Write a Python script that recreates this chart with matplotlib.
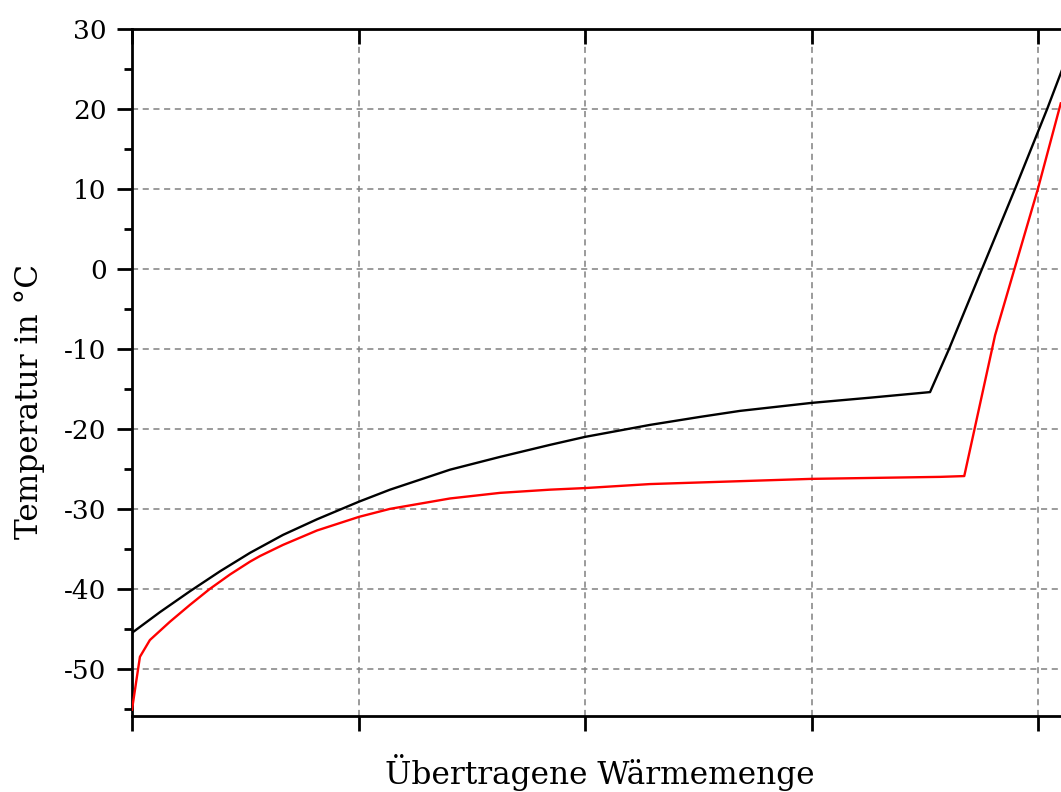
import numpy as np
import matplotlib
matplotlib.use('Agg')
import matplotlib.pyplot as plt
from matplotlib.ticker import MultipleLocator, NullFormatter

# values (x in arbitrary heat units, y in deg C)
black_x = [0.0, 0.124, 0.256, 0.389, 0.521, 0.667, 0.817, 1.002, 1.139, 1.404, 1.625, 1.845, 2.0,
           2.287, 2.508, 2.684, 3.0, 3.258, 3.523, 3.607, 3.898, 4.04, 4.13]
black_y = [-45.5, -42.9, -40.3, -37.8, -35.5, -33.25, -31.3, -29.1, -27.6, -25.1, -23.5, -22.0, -21.0,
           -19.5, -18.5, -17.75, -16.75, -16.1, -15.4, -10.0, 10.0, 20.0, 26.7]

red_x = [0.0, 0.035, 0.079, 0.168, 0.256, 0.344, 0.433, 0.521, 0.565, 0.667, 0.817, 1.002, 1.139,
         1.404, 1.625, 1.845, 2.0, 2.287, 3.0, 3.568, 3.674, 3.81, 3.999, 4.10]
red_y = [-55.1, -48.5, -46.4, -44.1, -42.0, -40.0, -38.2, -36.6, -35.9, -34.5, -32.7, -31.0, -30.0,
         -28.7, -28.0, -27.6, -27.4, -26.9, -26.25, -26.0, -25.9, -8.3, 10.0, 20.7]

Y_TICKS = [-50, -40, -30, -20, -10, 0, 10, 20, 30]
X_TICKS = [0, 1, 2, 3, 4]

plt.rcParams['font.family'] = 'DejaVu Serif'
plt.rcParams['axes.unicode_minus'] = False


def main():
    fig = plt.figure(figsize=(10.61, 7.92), dpi=100)
    ax = fig.add_axes([132 / 1061, 76 / 792, 936 / 1061, 687 / 792])

    ax.plot(black_x, black_y, color='black', lw=1.7, zorder=3)
    ax.plot(red_x, red_y, color='red', lw=1.7, zorder=3)

    ax.set_xlim(0, 4.132)
    ax.set_ylim(-55.9, 30)

    ax.set_xticks(X_TICKS)
    ax.xaxis.set_major_formatter(NullFormatter())
    ax.set_yticks(Y_TICKS)
    ax.set_yticklabels([str(v) for v in Y_TICKS])
    ax.yaxis.set_minor_locator(MultipleLocator(5))

    ax.tick_params(axis='both', which='major', length=10.8, width=2.0,
                   labelsize=19, pad=7.5)
    ax.tick_params(axis='y', which='minor', length=5.8, width=2.0)
    ax.tick_params(axis='x', which='both', top=True, bottom=True)
    ax.tick_params(axis='y', which='both', left=True, right=True)
    # bottom/left ticks point out, top/right ticks point in
    for t in ax.xaxis.get_major_ticks():
        t.tick2line.set_marker(3)
    for t in ax.yaxis.get_major_ticks() + ax.yaxis.get_minor_ticks():
        t.tick2line.set_marker(1)

    for s in ax.spines.values():
        s.set_linewidth(2.0)

    ax.grid(True, which='major', color='#808080', lw=1.1, linestyle=(0, (4, 3)))
    ax.set_axisbelow(True)

    ax.set_xlabel('Übertragene Wärmemenge', fontsize=22.5)
    ax.xaxis.set_label_coords(0.5, -0.055)
    ax.set_ylabel('Temperatur in °C', fontsize=22.5, va='center')
    ax.yaxis.set_label_coords(-0.110, 0.458)

    fig.savefig('out.png', dpi=100)


if __name__ == "__main__":
    main()
